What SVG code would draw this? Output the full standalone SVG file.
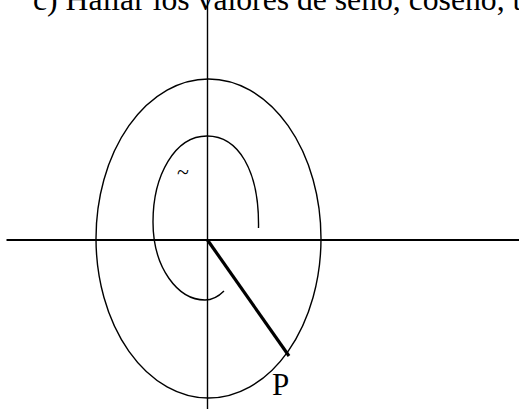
<svg xmlns="http://www.w3.org/2000/svg" width="519" height="409" viewBox="0 0 519 409">
<style>
.t{font-family:"Liberation Serif","Times New Roman",serif;fill:#000}
.ln{stroke:#000;fill:none}
</style>
<rect width="519" height="409" fill="#fff"/>
<text id="title" class="t" x="33" y="10" font-size="31.7">c) Hallar los valores de seno, coseno, t</text>
<g id="connectors">
<line class="ln" x1="207.5" y1="0" x2="207.5" y2="409" stroke-width="1.4"/>
<line class="ln" x1="6.5" y1="240" x2="519" y2="240" stroke-width="2"/>
<line class="ln" x1="207.5" y1="240" x2="289" y2="356" stroke-width="3.2"/>
</g>
<g id="outer-ellipse">
<ellipse class="ln" cx="208.5" cy="238.5" rx="112.5" ry="159.5" stroke-width="1.4"/>
</g>
<g id="spiral">
<path class="ln" stroke-width="1.4" d="M258.5,228 C259.5,170 238,136 207,136 C175,136 153,175 153,222 C153,268 178,300 205,300 C213,300 219,296 224,291"/>
</g>
<g id="mark">
<text class="t" x="177" y="179" font-size="22">~</text>
</g>
<g id="label-P">
<text class="t" x="272" y="395" font-size="31">P</text>
</g>
</svg>
